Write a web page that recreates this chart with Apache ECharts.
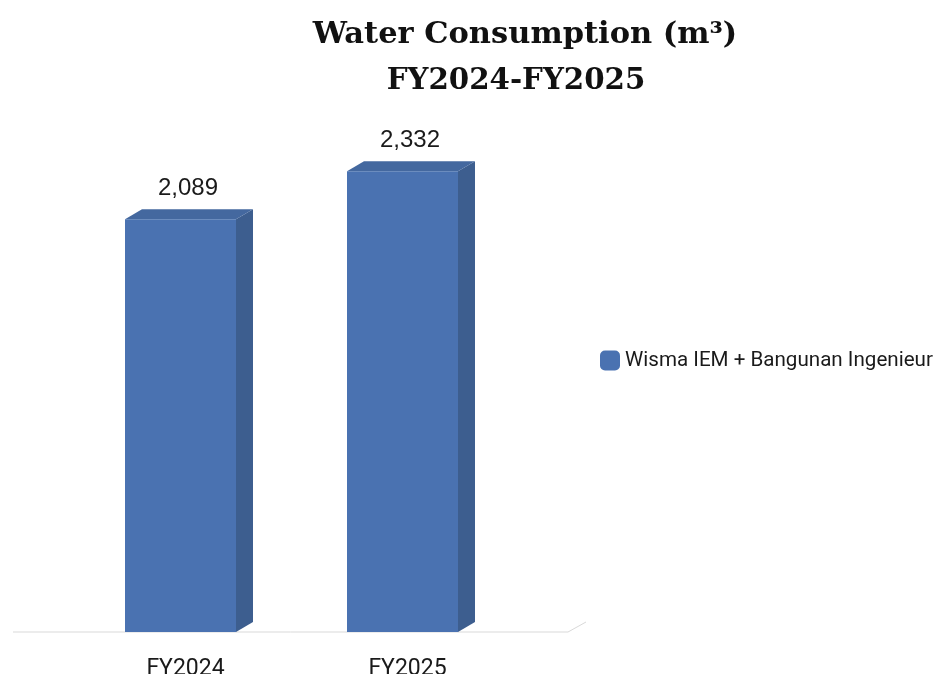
<!DOCTYPE html>
<html>
<head>
<meta charset="utf-8">
<script src="https://cdn.jsdelivr.net/npm/echarts@6/dist/echarts.min.js"></script>
<style>
  html, body { margin: 0; padding: 0; background: #ffffff; }
  #chart { width: 934px; height: 674px; }
</style>
</head>
<body>
<div id="chart"></div>
<script>
// Water consumption by financial year (m³)
const categories = ['FY2024', 'FY2025'];
const consumption = [2089, 2332];
const seriesName = 'Wisma IEM + Bangunan Ingenieur';
const titleLines = ['Water Consumption (m³)', 'FY2024-FY2025'];

// Pseudo-3D bar faces
const FRONT = '#4a72b1';
const SIDE = '#3d5e8f';
const TOP = '#44689f';
const DEPTH_X = 17;
const DEPTH_Y = -10;

const chart = echarts.init(document.getElementById('chart'));

function renderBar3D(params, api) {
  const idx = api.value(0);
  const val = api.value(1);
  const top = api.coord([idx, val]);
  const base = api.coord([idx, 0]);
  const band = api.size([1, 0])[0];
  const w = band * 0.5;
  const x = top[0] - w / 2;
  const y = top[1];
  const b = base[1];
  return {
    type: 'group',
    children: [
      {
        type: 'polygon',
        shape: { points: [[x + w, y], [x + w + DEPTH_X, y + DEPTH_Y], [x + w + DEPTH_X, b + DEPTH_Y], [x + w, b]] },
        style: { fill: SIDE }
      },
      {
        type: 'polygon',
        shape: { points: [[x, y], [x + DEPTH_X, y + DEPTH_Y], [x + w + DEPTH_X, y + DEPTH_Y], [x + w, y]] },
        style: { fill: TOP }
      },
      {
        type: 'rect',
        shape: { x: x, y: y, width: w, height: b - y },
        style: { fill: FRONT }
      },
      {
        type: 'text',
        x: x + (w + DEPTH_X) / 2 - 1,
        y: y + DEPTH_Y - 9,
        style: {
          text: val.toLocaleString('en-US'),
          fontFamily: 'Liberation Sans, Arial, sans-serif',
          fontSize: 24,
          fill: '#1a1a1a',
          align: 'center',
          verticalAlign: 'bottom'
        }
      }
    ]
  };
}

chart.setOption({
  backgroundColor: '#ffffff',
  animation: false,
  graphic: [
    {
      type: 'text', x: 525, y: 35,
      style: { text: titleLines[0], fontFamily: 'DejaVu Serif', fontWeight: 'bold', fontSize: 30.5, fill: '#111', align: 'center', verticalAlign: 'middle' }
    },
    {
      type: 'text', x: 516, y: 81,
      style: { text: titleLines[1], fontFamily: 'DejaVu Serif', fontWeight: 'bold', fontSize: 29.3, fill: '#111', align: 'center', verticalAlign: 'middle' }
    },
    {
      type: 'polyline', z: -1,
      shape: { points: [[13, 632], [568, 632], [586, 622]] },
      style: { stroke: '#d9d9d9', lineWidth: 1, fill: null }
    }
  ],
  legend: {
    left: 600,
    top: 350,
    padding: 0,
    itemWidth: 20,
    itemHeight: 20,
    itemGap: 10,
    icon: 'roundRect',
    textStyle: { fontFamily: 'Roboto', fontSize: 20.6, color: '#1a1a1a' },
    data: [seriesName]
  },
  grid: { left: 69.5, width: 444, top: 138, bottom: 42, outerBoundsMode: 'none', containLabel: false },
  xAxis: {
    type: 'category',
    data: categories,
    axisLine: { show: false },
    axisTick: { show: false },
    axisLabel: { fontFamily: 'Roboto', fontSize: 23, color: '#1a1a1a', margin: 26, padding: [0, 0, 0, 10] }
  },
  yAxis: {
    type: 'value',
    min: 0,
    max: 2500,
    show: false,
    splitLine: { show: false }
  },
  series: [{
    type: 'custom',
    name: seriesName,
    itemStyle: { color: FRONT },
    encode: { x: 0, y: 1 },
    data: consumption.map((v, i) => [i, v]),
    renderItem: renderBar3D
  }]
});
</script>
</body>
</html>
